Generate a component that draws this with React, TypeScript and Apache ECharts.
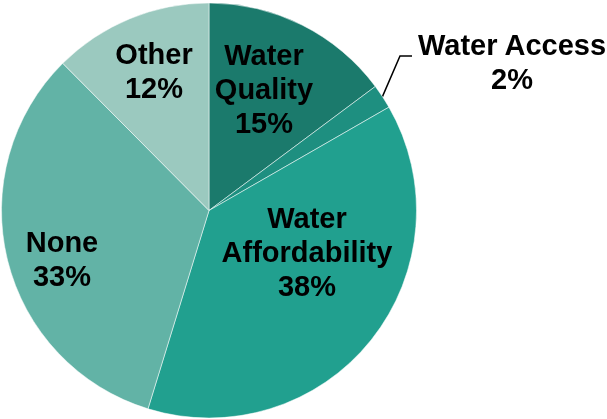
import React, { useEffect, useRef } from "react";
import * as echarts from "echarts";

const categories = ["Water Quality", "Water Access", "Water Affordability", "None", "Other"];
const values = [14.8, 1.9, 38.05, 32.8, 12.45];
const colors = ["#1b7a6c", "#1e8f80", "#21a08f", "#62b3a6", "#9bc9bf"];

// label anchor centres (layout only)
const labelCenters: number[][] = [
  [264, 89],
  [512, 62],
  [307, 252],
  [62, 259],
  [154, 71],
];

export default function App() {
  const ref = useRef<HTMLDivElement>(null);
  useEffect(() => {
    if (!ref.current) return;
    const chart = echarts.init(ref.current, null, { renderer: "svg" });
    chart.setOption({
      animation: false,
      series: [
        {
          type: "pie",
          center: [209, 210.5],
          radius: 207.5,
          startAngle: 90,
          clockwise: true,
          itemStyle: { borderColor: "rgba(255,255,255,0.5)", borderWidth: 1 },
          label: {
            show: true,
            position: "inside",
            fontFamily: "'Liberation Sans', Arial, sans-serif",
            fontWeight: "bold",
            fontSize: 29,
            lineHeight: 34,
            color: "#000",
            align: "center",
            overflow: "none",
            formatter: (p: any) =>
              (p.dataIndex === 1 ? p.name : p.name.replace(" ", "\n")) +
              "\n" +
              Math.round(p.value) +
              "%",
          },
          labelLine: { show: false },
          labelLayout: (params: any) => {
            const i = params.dataIndex;
            const c = labelCenters[i];
            const res: any = { x: c[0], y: c[1], align: "center", verticalAlign: "middle" };
            if (i === 1 && params.labelLinePoints) {
              const p0 = params.labelLinePoints[0];
              res.labelLinePoints = [
                [p0[0], p0[1]],
                [400, 56],
                [412, 56],
              ];
            }
            return res;
          },
          data: categories.map((name, i) => ({
            name,
            value: values[i],
            itemStyle: { color: colors[i] },
            ...(i === 1
              ? {
                  label: { position: "outside", overflow: "none", width: 260 },
                  labelLine: {
                    show: true,
                    length: 20,
                    length2: 12,
                    lineStyle: { color: "#000", width: 1.5 },
                  },
                }
              : {}),
          })),
        },
      ],
    });
    return () => chart.dispose();
  }, []);
  return <div ref={ref} style={{ position: "fixed", left: 0, top: 0, width: 607, height: 419 }} />;
}
